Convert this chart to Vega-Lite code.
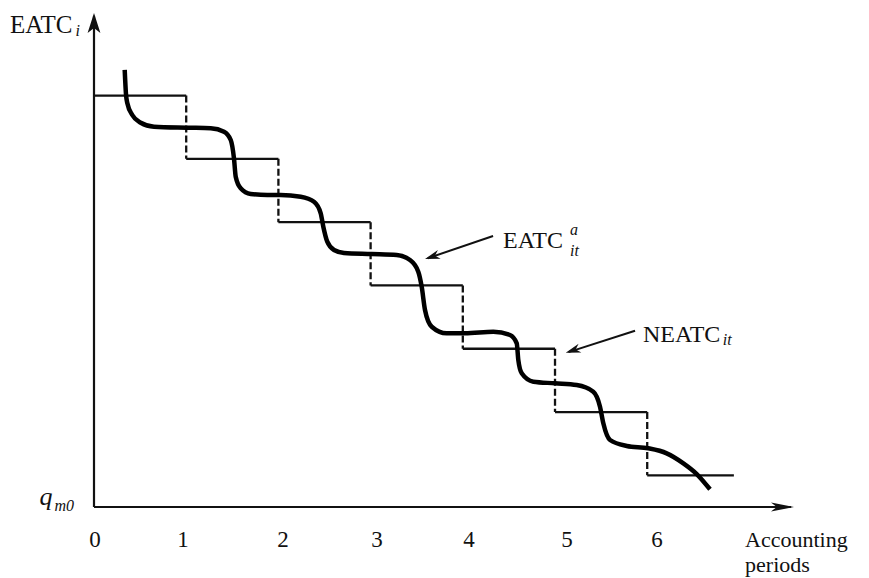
{
  "$schema": "https://vega.github.io/schema/vega-lite/v6.json",
  "width": 700,
  "height": 494,
  "autosize": {"type": "none"},
  "padding": {"left": 94, "top": 13, "right": 75, "bottom": 71},
  "background": "white",
  "config": {"view": {"stroke": null}, "font": "Liberation Serif"},
  "datasets": {
    "curve": [
      {"t": 0.333, "v": 6.904}, {"t": 0.347, "v": 6.52}, {"t": 0.361, "v": 6.382}, {"t": 0.415, "v": 6.193},
      {"t": 0.507, "v": 6.071}, {"t": 0.651, "v": 6.008}, {"t": 1.012, "v": 5.992}, {"t": 1.266, "v": 5.983},
      {"t": 1.41, "v": 5.929}, {"t": 1.483, "v": 5.798}, {"t": 1.518, "v": 5.509}, {"t": 1.537, "v": 5.218},
      {"t": 1.591, "v": 5.035}, {"t": 1.7, "v": 4.945}, {"t": 1.88, "v": 4.929}, {"t": 2.025, "v": 4.929},
      {"t": 2.242, "v": 4.902}, {"t": 2.386, "v": 4.823}, {"t": 2.459, "v": 4.64}, {"t": 2.487, "v": 4.428},
      {"t": 2.53, "v": 4.191}, {"t": 2.603, "v": 4.06}, {"t": 2.712, "v": 4.013}, {"t": 3.012, "v": 3.997},
      {"t": 3.283, "v": 3.981}, {"t": 3.427, "v": 3.902}, {"t": 3.517, "v": 3.717}, {"t": 3.554, "v": 3.48},
      {"t": 3.59, "v": 3.112}, {"t": 3.663, "v": 2.848}, {"t": 3.825, "v": 2.744}, {"t": 4.024, "v": 2.744},
      {"t": 4.331, "v": 2.769}, {"t": 4.512, "v": 2.717}, {"t": 4.585, "v": 2.586}, {"t": 4.602, "v": 2.322},
      {"t": 4.639, "v": 2.112}, {"t": 4.765, "v": 1.979}, {"t": 5.0, "v": 1.954}, {"t": 5.235, "v": 1.927},
      {"t": 5.415, "v": 1.821}, {"t": 5.488, "v": 1.585}, {"t": 5.524, "v": 1.322}, {"t": 5.597, "v": 1.058},
      {"t": 5.778, "v": 0.964}, {"t": 6.012, "v": 0.927}, {"t": 6.211, "v": 0.848}, {"t": 6.392, "v": 0.69},
      {"t": 6.537, "v": 0.521}, {"t": 6.681, "v": 0.28}
    ],
    "steps": [
      {"x0": 0, "x1": 1, "level": 6.5},
      {"x0": 1, "x1": 2, "level": 5.5},
      {"x0": 2, "x1": 3, "level": 4.5},
      {"x0": 3, "x1": 4, "level": 3.5},
      {"x0": 4, "x1": 5, "level": 2.5},
      {"x0": 5, "x1": 6, "level": 1.5},
      {"x0": 6, "x1": 6.94, "level": 0.5}
    ],
    "risers": [
      {"x": 1, "top": 6.5, "bottom": 5.5},
      {"x": 2, "top": 5.5, "bottom": 4.5},
      {"x": 3, "top": 4.5, "bottom": 3.5},
      {"x": 4, "top": 3.5, "bottom": 2.5},
      {"x": 5, "top": 2.5, "bottom": 1.5},
      {"x": 6, "top": 1.5, "bottom": 0.5}
    ],
    "axes": [
      {"x0": 0, "y0": 0, "x1": 7.56, "y1": 0},
      {"x0": 0, "y0": 0, "x1": 0, "y1": 7.76}
    ],
    "pointers": [
      {"x0": 4.328, "y0": 4.281, "x1": 3.62, "y1": 3.93},
      {"x0": 5.868, "y0": 2.785, "x1": 5.146, "y1": 2.447}
    ],
    "pointerHeads": [
      {"x": 3.59, "y": 3.918},
      {"x": 5.116, "y": 2.437}
    ],
    "xHead": [{"x": 7.592, "y": 0}],
    "yHead": [{"x": 0, "y": 7.804}],
    "titles": [
      {"x": -0.911, "y": 7.488, "label": "EATC"}
    ],
    "xTitle": [
      {"x": 7.061, "y": -0.63, "label": "Accounting"},
      {"x": 7.061, "y": -1.03, "label": "periods"}
    ],
    "notes": [
      {"x": 4.436, "y": 4.092, "label": "EATC"},
      {"x": 5.954, "y": 2.607, "label": "NEATC"}
    ],
    "scripts": [
      {"x": -0.2, "y": 7.441, "label": "i"},
      {"x": 5.163, "y": 4.29, "label": "a"},
      {"x": 5.163, "y": 3.96, "label": "it"},
      {"x": 6.82, "y": 2.559, "label": "it"},
      {"x": -0.428, "y": -0.063, "label": "m0"}
    ],
    "qlabel": [{"x": -0.59, "y": 0.032, "label": "q"}],
    "ticks": [
      {"x": 0.011, "label": "0"},
      {"x": 0.965, "label": "1"},
      {"x": 2.05, "label": "2"},
      {"x": 3.069, "label": "3"},
      {"x": 4.067, "label": "4"},
      {"x": 5.13, "label": "5"},
      {"x": 6.106, "label": "6"}
    ]
  },
  "layer": [
    {
      "data": {"name": "axes"},
      "mark": {"type": "rule", "color": "#111", "strokeWidth": 2.2},
      "encoding": {
        "x": {"field": "x0", "type": "quantitative", "axis": null, "scale": {"domain": [0, 7.592], "nice": false, "zero": false}},
        "y": {"field": "y0", "type": "quantitative", "axis": null, "scale": {"domain": [0, 7.804], "nice": false, "zero": false}},
        "x2": {"field": "x1"},
        "y2": {"field": "y1"}
      }
    },
    {
      "data": {"name": "xHead"},
      "mark": {"type": "point", "filled": true, "color": "#111", "opacity": 1, "strokeWidth": 0, "size": 2116, "angle": 0, "shape": "M0,0 L-1,-0.2 L-0.75,0 L-1,0.2 Z"},
      "encoding": {
        "x": {"field": "x", "type": "quantitative", "axis": null, "scale": {"domain": [0, 7.592], "nice": false, "zero": false}},
        "y": {"field": "y", "type": "quantitative", "axis": null, "scale": {"domain": [0, 7.804], "nice": false, "zero": false}}
      }
    },
    {
      "data": {"name": "yHead"},
      "mark": {"type": "point", "filled": true, "color": "#111", "opacity": 1, "strokeWidth": 0, "size": 1600, "angle": 270, "shape": "M0,0 L-1,-0.32 L-0.75,0 L-1,0.32 Z"},
      "encoding": {
        "x": {"field": "x", "type": "quantitative", "axis": null, "scale": {"domain": [0, 7.592], "nice": false, "zero": false}},
        "y": {"field": "y", "type": "quantitative", "axis": null, "scale": {"domain": [0, 7.804], "nice": false, "zero": false}}
      }
    },
    {
      "data": {"name": "steps"},
      "mark": {"type": "rule", "color": "#111", "strokeWidth": 2.3},
      "encoding": {
        "x": {"field": "x0", "type": "quantitative", "axis": null, "scale": {"domain": [0, 7.592], "nice": false, "zero": false}},
        "x2": {"field": "x1"},
        "y": {"field": "level", "type": "quantitative", "axis": null, "scale": {"domain": [0, 7.804], "nice": false, "zero": false}}
      }
    },
    {
      "data": {"name": "risers"},
      "mark": {"type": "rule", "color": "#111", "strokeWidth": 2.3, "strokeDash": [7, 3]},
      "encoding": {
        "x": {"field": "x", "type": "quantitative", "axis": null, "scale": {"domain": [0, 7.592], "nice": false, "zero": false}},
        "y": {"field": "top", "type": "quantitative", "axis": null, "scale": {"domain": [0, 7.804], "nice": false, "zero": false}},
        "y2": {"field": "bottom"}
      }
    },
    {
      "data": {"name": "curve"},
      "mark": {"type": "line", "color": "#000", "strokeWidth": 4.5, "interpolate": "monotone"},
      "encoding": {
        "x": {"field": "t", "type": "quantitative", "axis": null, "scale": {"domain": [0, 7.592], "nice": false, "zero": false}},
        "y": {"field": "v", "type": "quantitative", "axis": null, "scale": {"domain": [0, 7.804], "nice": false, "zero": false}}
      }
    },
    {
      "data": {"name": "pointers"},
      "mark": {"type": "rule", "color": "#111", "strokeWidth": 2},
      "encoding": {
        "x": {"field": "x0", "type": "quantitative", "axis": null, "scale": {"domain": [0, 7.592], "nice": false, "zero": false}},
        "y": {"field": "y0", "type": "quantitative", "axis": null, "scale": {"domain": [0, 7.804], "nice": false, "zero": false}},
        "x2": {"field": "x1"},
        "y2": {"field": "y1"}
      }
    },
    {
      "data": {"name": "pointerHeads"},
      "mark": {"type": "point", "filled": true, "color": "#111", "opacity": 1, "strokeWidth": 0, "size": 900, "angle": 162, "shape": "M0,0 L-1,-0.3 L-0.7,0 L-1,0.3 Z"},
      "encoding": {
        "x": {"field": "x", "type": "quantitative", "axis": null, "scale": {"domain": [0, 7.592], "nice": false, "zero": false}},
        "y": {"field": "y", "type": "quantitative", "axis": null, "scale": {"domain": [0, 7.804], "nice": false, "zero": false}}
      }
    },
    {
      "data": {"name": "titles"},
      "mark": {"type": "text", "font": "Liberation Serif", "fontSize": 25, "color": "#111", "align": "left", "baseline": "alphabetic"},
      "encoding": {
        "x": {"field": "x", "type": "quantitative", "axis": null, "scale": {"domain": [0, 7.592], "nice": false, "zero": false}},
        "y": {"field": "y", "type": "quantitative", "axis": null, "scale": {"domain": [0, 7.804], "nice": false, "zero": false}},
        "text": {"field": "label"}
      }
    },
    {
      "data": {"name": "xTitle"},
      "mark": {"type": "text", "font": "Liberation Serif", "fontSize": 22, "color": "#111", "align": "left", "baseline": "alphabetic"},
      "encoding": {
        "x": {"field": "x", "type": "quantitative", "axis": null, "scale": {"domain": [0, 7.592], "nice": false, "zero": false}},
        "y": {"field": "y", "type": "quantitative", "axis": null, "scale": {"domain": [0, 7.804], "nice": false, "zero": false}},
        "text": {"field": "label"}
      }
    },
    {
      "data": {"name": "notes"},
      "mark": {"type": "text", "font": "Liberation Serif", "fontSize": 24, "color": "#111", "align": "left", "baseline": "alphabetic"},
      "encoding": {
        "x": {"field": "x", "type": "quantitative", "axis": null, "scale": {"domain": [0, 7.592], "nice": false, "zero": false}},
        "y": {"field": "y", "type": "quantitative", "axis": null, "scale": {"domain": [0, 7.804], "nice": false, "zero": false}},
        "text": {"field": "label"}
      }
    },
    {
      "data": {"name": "scripts"},
      "mark": {"type": "text", "font": "Liberation Serif", "fontSize": 16, "fontStyle": "italic", "color": "#111", "align": "left", "baseline": "alphabetic"},
      "encoding": {
        "x": {"field": "x", "type": "quantitative", "axis": null, "scale": {"domain": [0, 7.592], "nice": false, "zero": false}},
        "y": {"field": "y", "type": "quantitative", "axis": null, "scale": {"domain": [0, 7.804], "nice": false, "zero": false}},
        "text": {"field": "label"}
      }
    },
    {
      "data": {"name": "qlabel"},
      "mark": {"type": "text", "font": "Liberation Serif", "fontSize": 26, "fontStyle": "italic", "color": "#111", "align": "left", "baseline": "alphabetic"},
      "encoding": {
        "x": {"field": "x", "type": "quantitative", "axis": null, "scale": {"domain": [0, 7.592], "nice": false, "zero": false}},
        "y": {"field": "y", "type": "quantitative", "axis": null, "scale": {"domain": [0, 7.804], "nice": false, "zero": false}},
        "text": {"field": "label"}
      }
    },
    {
      "data": {"name": "ticks"},
      "mark": {"type": "text", "font": "Liberation Serif", "fontSize": 23, "color": "#111", "align": "center", "baseline": "alphabetic"},
      "encoding": {
        "x": {"field": "x", "type": "quantitative", "axis": null, "scale": {"domain": [0, 7.592], "nice": false, "zero": false}},
        "y": {"datum": -0.632, "type": "quantitative", "axis": null, "scale": {"domain": [0, 7.804], "nice": false, "zero": false}},
        "text": {"field": "label"}
      }
    }
  ]
}
